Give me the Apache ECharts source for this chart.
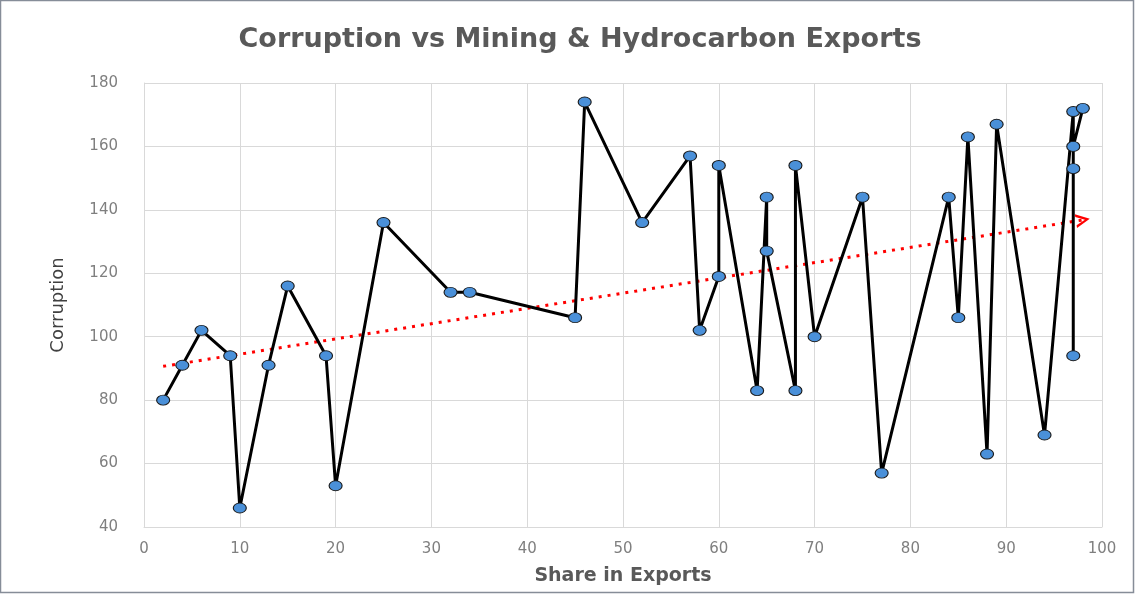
<!DOCTYPE html>
<html>
<head>
<meta charset="utf-8">
<script src="https://cdn.jsdelivr.net/npm/echarts@6/dist/echarts.min.js"></script>
<style>
  html, body { margin: 0; padding: 0; background: #fff; }
  #chart { width: 1135px; height: 594px; }
</style>
</head>
<body>
<div id="chart"></div>
<script>
(function() {
  // share of mining & hydrocarbon in exports (x) and corruption score (y), in plotted order
  var shareX = [2, 4, 6, 9, 10, 13, 15, 19, 20, 25, 32, 34, 45, 46, 52, 57, 58, 60, 60, 64,
                65, 65, 68, 68, 70, 75, 77, 84, 85, 86, 88, 89, 94, 97, 97, 97, 97, 98];
  var corruption = [80, 91, 102, 94, 46, 91, 116, 94, 53, 136, 114, 114, 106, 174, 136, 157, 102, 119, 154, 83,
                    144, 127, 83, 154, 100, 144, 57, 144, 106, 163, 63, 167, 69, 171, 94, 153, 160, 172];
  var xTicks = [0, 10, 20, 30, 40, 50, 60, 70, 80, 90, 100];
  var yTicks = [40, 60, 80, 100, 120, 140, 160, 180];

  var points = [];
  for (var i = 0; i < shareX.length; i++) {
    points.push([shareX[i], corruption[i]]);
  }

  // linear trend (least squares), drawn from min x to max x
  var n = shareX.length, sx = 0, sy = 0, sxx = 0, sxy = 0;
  for (var i = 0; i < n; i++) {
    sx += shareX[i]; sy += corruption[i];
    sxx += shareX[i] * shareX[i]; sxy += shareX[i] * corruption[i];
  }
  var slope = (n * sxy - sx * sy) / (n * sxx - sx * sx);
  var icpt = (sy - slope * sx) / n;
  var xMin = Math.min.apply(null, shareX), xMax = Math.max.apply(null, shareX);

  var myChart = echarts.init(document.getElementById('chart'));
  var labelColor = '#7f7f7f';
  var gridColor = '#d9d9d9';

  var option = {
    animation: false,
    backgroundColor: '#fff',
    graphic: [{
      type: 'rect',
      shape: { x: 0.5, y: 0.5, width: 1133, height: 592 },
      style: { fill: 'none', stroke: '#868d98', lineWidth: 1.5 },
      silent: true
    }],
    title: {
      text: 'Corruption vs Mining & Hydrocarbon Exports',
      left: 575,
      textAlign: 'center',
      top: 21,
      textStyle: {
        color: '#595959',
        fontFamily: 'DejaVu Sans',
        fontWeight: 'bold',
        fontSize: 27
      }
    },
    grid: { left: 144, right: 33, top: 83, bottom: 67, containLabel: false },
    xAxis: {
      type: 'value',
      min: 0, max: 100, interval: 10,
      name: 'Share in Exports',
      nameLocation: 'middle',
      nameGap: 40,
      nameTextStyle: { color: '#595959', fontFamily: 'DejaVu Sans', fontWeight: 'bold', fontSize: 19 },
      axisLine: { show: true, lineStyle: { color: gridColor, width: 1 } },
      axisTick: { show: false },
      axisLabel: {
        color: labelColor, fontFamily: 'DejaVu Sans', fontSize: 15, margin: 15,
        formatter: function(v) { return xTicks.indexOf(v) >= 0 ? String(v) : ''; }
      },
      splitLine: { show: true, lineStyle: { color: gridColor, width: 1 } }
    },
    yAxis: {
      type: 'value',
      min: 40, max: 180, interval: 20,
      name: 'Corruption',
      nameLocation: 'middle',
      nameGap: 77,
      nameRotate: 90,
      nameTextStyle: { color: '#404040', fontFamily: 'DejaVu Sans', fontSize: 18 },
      axisLine: { show: true, lineStyle: { color: gridColor, width: 1 } },
      axisTick: { show: false },
      axisLabel: {
        color: labelColor, fontFamily: 'DejaVu Sans', fontSize: 15, margin: 26,
        formatter: function(v) { return yTicks.indexOf(v) >= 0 ? String(v) : ''; }
      },
      splitLine: { show: true, lineStyle: { color: gridColor, width: 1 } }
    },
    series: [{
      name: 'Corruption',
      type: 'line',
      data: points,
      symbol: 'circle',
      symbolSize: [13, 10],
      showAllSymbol: true,
      lineStyle: { color: '#000', width: 3 },
      itemStyle: { color: '#4a90d9', borderColor: '#1a1a1a', borderWidth: 1 },
      z: 3,
      markLine: {
        silent: true,
        symbol: ['none', 'path://M0,20 L10,0 L20,20 L16,20 L10,7 L4,20 Z'],
        symbolSize: [14, 14],
        label: { show: false },
        lineStyle: { color: '#ff0000', width: 3, type: [3, 6] },
        data: [[
          { coord: [xMin, icpt + slope * xMin] },
          { coord: [xMax, icpt + slope * xMax] }
        ]],
        z: 2
      }
    }]
  };
  myChart.setOption(option);
  window.addEventListener('resize', function() {
    myChart.resize();
  });
})();
</script>
</body>
</html>
